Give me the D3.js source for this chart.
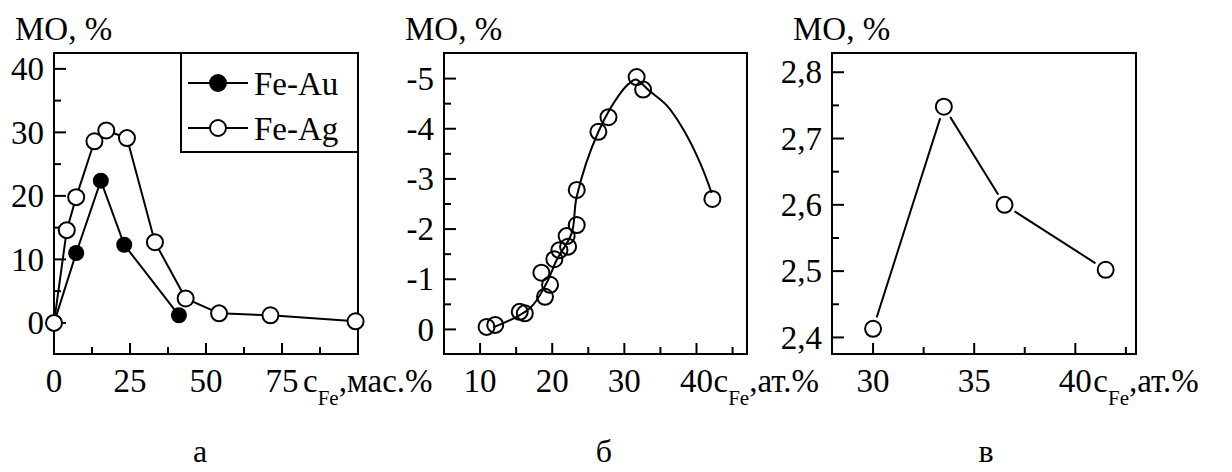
<!DOCTYPE html>
<html>
<head>
<meta charset="utf-8">
<script src="https://cdn.jsdelivr.net/npm/d3@7"></script>
</head>
<body style="margin:0">
<div id="wrapper"></div>
<script>
// panel а: Fe-Au and Fe-Ag, mass %
const auX = [0, 7.3, 15.4, 23.1, 41.1];
const auY = [0, 11.0, 22.4, 12.3, 1.2];
const agX = [0, 4.2, 7.3, 13.3, 17.2, 24.0, 33.2, 43.3, 54.3, 71.2, 99.2];
const agY = [0, 14.6, 19.8, 28.6, 30.3, 29.1, 12.7, 3.85, 1.5, 1.2, 0.25];
const legendNames = ["Fe-Au", "Fe-Ag"];

const bX = [10.9, 12.1, 15.5, 16.2, 19.0, 19.7, 18.5, 20.3, 21.0, 22.2, 22.0, 23.4, 23.4, 26.4, 27.8, 31.7, 32.6, 42.2];
const bY = [-0.05, -0.09, -0.35, -0.32, -0.65, -0.89, -1.13, -1.4, -1.58, -1.65, -1.86, -2.08, -2.78, -3.94, -4.23, -5.03, -4.78, -2.6];
const bCurveX = [11.8, 16.9, 19.2, 20.6, 22.7, 23.4, 26.4, 29.4, 30.8, 31.6, 33.5, 35.9, 38.2, 40.5, 42.1];
const bCurveY = [-0.04, -0.42, -0.92, -1.38, -1.92, -2.65, -3.94, -4.7, -4.92, -4.98, -4.75, -4.46, -3.98, -3.32, -2.72];

// panel в
const cX = [30.0, 33.5, 36.5, 41.5];
const cY = [2.413, 2.748, 2.6, 2.502];

// ticks
const aXTicks = [0, 25, 50, 75];
const aXMinor = [12.5, 37.5, 62.5, 87.5];
const aYTicks = [0, 10, 20, 30, 40];
const aYMinor = [5, 15, 25, 35];
const bXTicks = [10, 20, 30, 40];
const bXMinor = [15, 25, 35, 45];
const bYTicks = [0, -1, -2, -3, -4, -5];
const bYMinor = [-0.5, -1.5, -2.5, -3.5, -4.5];
const cXTicks = [30, 35, 40];
const cXMinor = [32.5, 37.5, 42.5];
const cYTicks = [2.4, 2.5, 2.6, 2.7, 2.8];
const cYMinor = [2.45, 2.55, 2.65, 2.75];

const yTitle = "МО, %";
const panelLetters = ["а", "б", "в"];
const xUnits = [",мас.%", ",ат.%", ",ат.%"];

function drawChart() {
  //* Step 1. Dimensions
  const width = 1232;
  const height = 472;
  const fontSize = 33;
  const plotTop = 53;
  const plotBottom = 354;

  const svg = d3
    .select("#wrapper")
    .append("svg")
    .attr("width", width)
    .attr("height", height);

  const addText = (parent, size) =>
    parent
      .append("text")
      .style("font-family", "Liberation Serif, Tinos, Times New Roman, serif", "important")
      .style("font-size", size + "px");

  const panels = [
    {
      left: 54, right: 358,
      xDomain: [0, 100], yDomain: [-4.9, 42.5],
      xTicks: aXTicks, xMinor: aXMinor, yTicks: aYTicks, yMinor: aYMinor,
      yFormat: (d) => String(d), unitOffset: 21, letterX: 200,
    },
    {
      left: 444, right: 747,
      xDomain: [5, 47], yDomain: [0.49, -5.51],
      xTicks: bXTicks, xMinor: bXMinor, yTicks: bYTicks, yMinor: bYMinor,
      yFormat: (d) => String(d), unitOffset: 17, letterX: 604,
    },
    {
      left: 832, right: 1136,
      xDomain: [27.97, 43], yDomain: [2.375, 2.829],
      xTicks: cXTicks, xMinor: cXMinor, yTicks: cYTicks, yMinor: cYMinor,
      yFormat: (d) => d.toFixed(1).replace(".", ","), unitOffset: 18, letterX: 986,
    },
  ];

  panels.forEach((p, i) => {
    //* Step 2. Scales
    p.x = d3.scaleLinear().domain(p.xDomain).range([p.left, p.right]);
    p.y = d3.scaleLinear().domain(p.yDomain).range([plotBottom, plotTop]);

    //* Step 3. Ticks from the scales (inside the frame)
    p.yTicks.forEach((v) => {
      svg.append("line").attr("x1", p.left).attr("x2", p.left + 12)
        .attr("y1", p.y(v)).attr("y2", p.y(v)).attr("stroke", "#000").attr("stroke-width", 2);
      addText(svg, fontSize).attr("x", p.left - 10).attr("y", p.y(v)).attr("dy", "0.34em")
        .attr("text-anchor", "end").text(p.yFormat(v));
    });
    p.yMinor.forEach((v) => {
      svg.append("line").attr("x1", p.left).attr("x2", p.left + 7)
        .attr("y1", p.y(v)).attr("y2", p.y(v)).attr("stroke", "#000").attr("stroke-width", 2);
    });
    p.xTicks.forEach((v) => {
      svg.append("line").attr("x1", p.x(v)).attr("x2", p.x(v))
        .attr("y1", plotBottom).attr("y2", plotBottom - 11).attr("stroke", "#000").attr("stroke-width", 2);
      addText(svg, fontSize).attr("x", p.x(v)).attr("y", 392)
        .attr("text-anchor", "middle").text(String(v));
    });
    p.xMinor.forEach((v) => {
      svg.append("line").attr("x1", p.x(v)).attr("x2", p.x(v))
        .attr("y1", plotBottom).attr("y2", plotBottom - 7).attr("stroke", "#000").attr("stroke-width", 2);
    });

    // frame
    svg.append("rect")
      .attr("x", p.left)
      .attr("y", plotTop)
      .attr("width", p.right - p.left)
      .attr("height", plotBottom - plotTop)
      .attr("fill", "none")
      .attr("stroke", "#000")
      .attr("stroke-width", 2);

    // y title
    addText(svg, fontSize).attr("x", p.left - 39).attr("y", 40).text(yTitle);

    // x title right after the last tick label
    const lastTick = p.xTicks[p.xTicks.length - 1];
    const xTitle = addText(svg, fontSize)
      .attr("x", p.x(lastTick) + p.unitOffset)
      .attr("y", 392);
    xTitle.append("tspan").text("c");
    xTitle.append("tspan").attr("dy", 13).style("font-size", "21px").text("Fe");
    xTitle.append("tspan").attr("dy", -13).text(xUnits[i]);

    // panel letter
    addText(svg, 32).attr("x", p.letterX).attr("y", 462)
      .attr("text-anchor", "middle").text(panelLetters[i]);
  });

  //* Step 4. Draw data
  const [pa, pb, pc] = panels;
  const line = (p) => d3.line().x((d) => p.x(d[0])).y((d) => p.y(d[1]));

  // panel а
  const au = d3.zip(auX, auY);
  const ag = d3.zip(agX, agY);
  svg.append("path").attr("d", line(pa)(au)).attr("fill", "none").attr("stroke", "#000").attr("stroke-width", 2);
  svg.append("path").attr("d", line(pa)(ag)).attr("fill", "none").attr("stroke", "#000").attr("stroke-width", 2);
  svg.append("g").selectAll("circle").data(au.slice(1)).join("circle")
    .attr("cx", (d) => pa.x(d[0])).attr("cy", (d) => pa.y(d[1]))
    .attr("r", 8).attr("fill", "#000");
  svg.append("g").selectAll("circle").data(ag).join("circle")
    .attr("cx", (d) => pa.x(d[0])).attr("cy", (d) => pa.y(d[1]))
    .attr("r", 8).attr("fill", "#fff").attr("stroke", "#000").attr("stroke-width", 2);

  // legend
  svg.append("rect").attr("x", 181).attr("y", plotTop).attr("width", 177).attr("height", 99)
    .attr("fill", "#fff").attr("stroke", "#000").attr("stroke-width", 2);
  legendNames.forEach((name, k) => {
    const ly = 83 + k * 45;
    svg.append("line").attr("x1", 188).attr("x2", 248).attr("y1", ly).attr("y2", ly)
      .attr("stroke", "#000").attr("stroke-width", 2);
    svg.append("circle").attr("cx", 218).attr("cy", ly).attr("r", 8)
      .attr("fill", k === 0 ? "#000" : "#fff").attr("stroke", "#000").attr("stroke-width", 2);
    addText(svg, fontSize).attr("x", 254).attr("y", ly).attr("dy", "0.35em").text(name);
  });

  // panel б
  const bCurve = d3.zip(bCurveX, bCurveY);
  svg.append("path")
    .attr("d", line(pb).curve(d3.curveCatmullRom)(bCurve))
    .attr("fill", "none").attr("stroke", "#000").attr("stroke-width", 2);
  svg.append("g").selectAll("circle").data(d3.zip(bX, bY)).join("circle")
    .attr("cx", (d) => pb.x(d[0])).attr("cy", (d) => pb.y(d[1]))
    .attr("r", 8).attr("fill", "none").attr("stroke", "#000").attr("stroke-width", 2);

  // panel в: white halo keeps a small gap between line and markers
  const cPts = d3.zip(cX, cY);
  svg.append("path").attr("d", line(pc)(cPts)).attr("fill", "none").attr("stroke", "#000").attr("stroke-width", 2);
  svg.append("g").selectAll("circle").data(cPts).join("circle")
    .attr("cx", (d) => pc.x(d[0])).attr("cy", (d) => pc.y(d[1]))
    .attr("r", 12).attr("fill", "#fff");
  svg.append("g").selectAll("circle").data(cPts).join("circle")
    .attr("cx", (d) => pc.x(d[0])).attr("cy", (d) => pc.y(d[1]))
    .attr("r", 8).attr("fill", "#fff").attr("stroke", "#000").attr("stroke-width", 2);
}
drawChart();
</script>
</body>
</html>
